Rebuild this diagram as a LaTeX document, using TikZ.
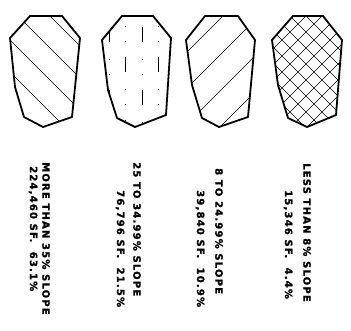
\documentclass[tikz,border=0pt]{standalone}
\usepackage{fontspec}
\newfontfamily\cadfont[LetterSpace=12,FakeBold=1.5]{DejaVu Sans}
\usepackage{tikz}
\usetikzlibrary{calc,positioning}
\usepackage{xcolor}
\definecolor{ink}{HTML}{000000}

\newcommand{\blockA}{(30,16) -- (62,16) -- (80,38) -- (72,117) -- (43,127) -- (24,117) -- (15,87) -- (10,38) -- cycle}
\newcommand{\blockB}{(122,16) -- (153,16) -- (171,38) -- (166,115) -- (135,127) -- (117,118) -- (108,90) -- (102,40) -- cycle}
\newcommand{\blockC}{(205,16) -- (238,16) -- (255,40) -- (248,117) -- (219,127) -- (202,118) -- (192,85) -- (186,40) -- cycle}
\newcommand{\blockD}{(293,16) -- (323,16) -- (342,40) -- (336,115) -- (307,127) -- (288,118) -- (278,85) -- (272,40) -- cycle}

\begin{document}
\begin{tikzpicture}[x=1pt, y=-1pt,
  outline/.style={draw=ink, line width=1.8pt, line join=round},
  hatch/.style={draw=ink, line width=0.5pt},
  dashhatch/.style={draw=ink, line width=0.9pt,
    dash pattern=on 15pt off 17pt on 1pt off 14pt on 1pt off 15pt},
  slopetitle/.style={rotate=-90, anchor=west, inner sep=0pt,
    font=\cadfont\bfseries\fontsize{10}{11}\selectfont},
  slopearea/.style={slopetitle}
]
  \useasboundingbox (0,0) rectangle (351,330);

  % More than 35%
  \begin{scope}
    \clip \blockA;
    \foreach \c in {-94,-62,...,90}
      \draw[hatch] (\c,0) -- ++(150,150);
  \end{scope}
  \draw[outline] \blockA;

  % 25 to 34.99%
  \begin{scope}
    \clip \blockB;
    \foreach \x/\y in {109/-36, 125/-6, 142/-36, 158/-6}
      \draw[dashhatch] (\x,\y) -- (\x,140);
  \end{scope}
  \draw[outline] \blockB;

  % 8 to 24.99%
  \begin{scope}
    \clip \blockC;
    \foreach \c in {131,167,...,420}
      \draw[hatch] (\c,0) -- ++(-150,150);
  \end{scope}
  \draw[outline] \blockC;

  % Less than 8%
  \begin{scope}
    \clip \blockD;
    \foreach \c in {130,146,...,330}
      \draw[hatch] (\c,0) -- ++(150,150);
    \foreach \c in {290,306,...,480}
      \draw[hatch] (\c,0) -- ++(-150,150);
  \end{scope}
  \draw[outline] \blockD;

  % Labels
  \node[slopetitle] (s1) at (46,162) {MORE THAN 35\% SLOPE};
  \node[slopearea]  (a1) at (33,166) {224,460 SF.\ \ 63.1\%};
  \node[slopetitle] (s2) at (137,162) {25 TO 34.99\% SLOPE};
  \node[slopearea]  (a2) at (120,190) {76,796 SF.\ \ 21.5\%};
  \node[slopetitle] (s3) at (219,168) {8 TO 24.99\% SLOPE};
  \node[slopearea]  (a3) at (200,190) {39,840 SF.\ \ 10.9\%};
  \node[slopetitle] (s4) at (307,163) {LESS THAN 8\% SLOPE};
  \node[slopearea]  (a4) at (288,190) {15,346 SF.\ \ 4.4\%};
\end{tikzpicture}
\end{document}
